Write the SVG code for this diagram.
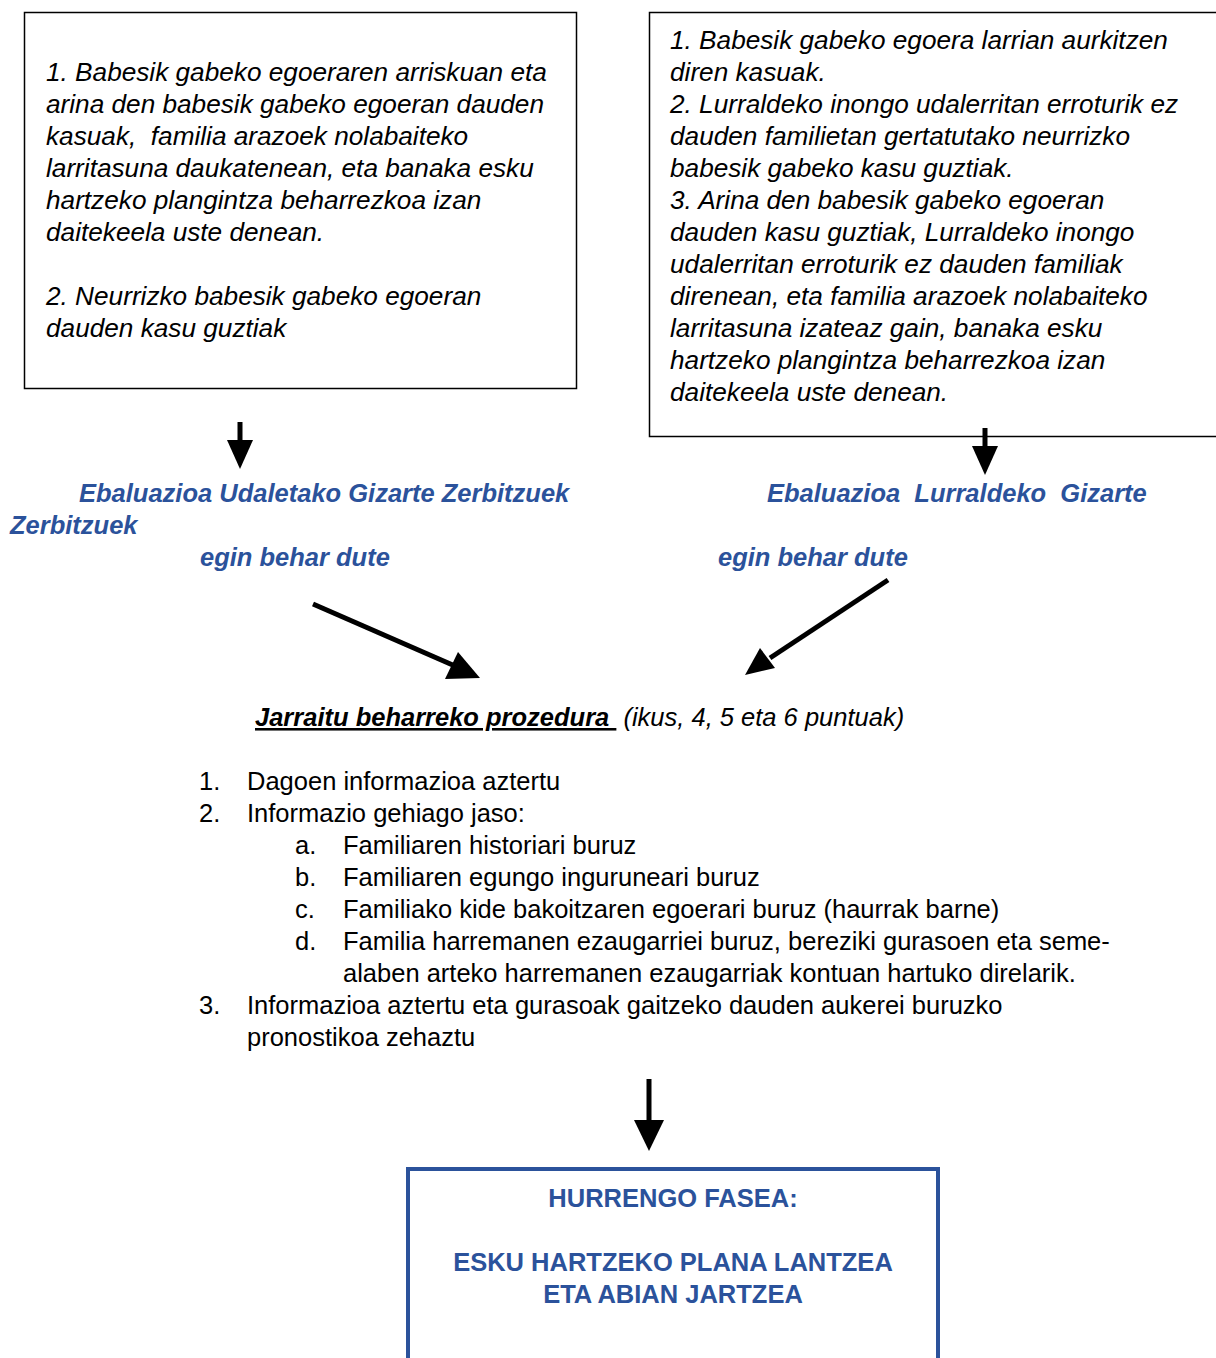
<svg xmlns="http://www.w3.org/2000/svg" width="1216" height="1358" viewBox="0 0 1216 1358">
<style>
text{font-family:"Liberation Sans",Arial,sans-serif;font-size:25.5px;fill:#000}
.it{font-style:italic}
.bx{font-style:italic;font-size:26.2px}
.blue{fill:#2B529B;font-weight:bold;font-style:italic}
.bb{fill:#2B529B;font-weight:bold}
.box{fill:#fff;stroke:#000;stroke-width:1.5}
.conn line{stroke:#000;stroke-width:5}
.conn polygon{fill:#000}
</style>
<rect width="1216" height="1358" fill="#fff"/>
<g id="box-left">
<rect class="box" x="24.5" y="12.5" width="552" height="376"/>
<text class="bx" x="46" y="81">1. Babesik gabeko egoeraren arriskuan eta</text>
<text class="bx" x="46" y="113">arina den babesik gabeko egoeran dauden</text>
<text class="bx" x="46" y="145" xml:space="preserve">kasuak,  familia arazoek nolabaiteko</text>
<text class="bx" x="46" y="177">larritasuna daukatenean, eta banaka esku</text>
<text class="bx" x="46" y="209">hartzeko plangintza beharrezkoa izan</text>
<text class="bx" x="46" y="241">daitekeela uste denean.</text>
<text class="bx" x="46" y="305">2. Neurrizko babesik gabeko egoeran</text>
<text class="bx" x="46" y="337">dauden kasu guztiak</text>
</g>
<g id="box-right">
<rect class="box" x="649.5" y="12.5" width="570" height="424"/>
<text class="bx" x="670" y="49">1. Babesik gabeko egoera larrian aurkitzen</text>
<text class="bx" x="670" y="81">diren kasuak.</text>
<text class="bx" x="670" y="113">2. Lurraldeko inongo udalerritan erroturik ez</text>
<text class="bx" x="670" y="145">dauden familietan gertatutako neurrizko</text>
<text class="bx" x="670" y="177">babesik gabeko kasu guztiak.</text>
<text class="bx" x="670" y="209">3. Arina den babesik gabeko egoeran</text>
<text class="bx" x="670" y="241">dauden kasu guztiak, Lurraldeko inongo</text>
<text class="bx" x="670" y="273">udalerritan erroturik ez dauden familiak</text>
<text class="bx" x="670" y="305">direnean, eta familia arazoek nolabaiteko</text>
<text class="bx" x="670" y="337">larritasuna izateaz gain, banaka esku</text>
<text class="bx" x="670" y="369">hartzeko plangintza beharrezkoa izan</text>
<text class="bx" x="670" y="401">daitekeela uste denean.</text>
</g>
<g id="label-left">
<text class="blue" x="79" y="502">Ebaluazioa Udaletako Gizarte Zerbitzuek</text>
<text class="blue" x="10" y="534">Zerbitzuek</text>
<text class="blue" x="200" y="566">egin behar dute</text>
</g>
<g id="label-right">
<text class="blue" x="767" y="502" xml:space="preserve">Ebaluazioa  Lurraldeko  Gizarte</text>
<text class="blue" x="718" y="566">egin behar dute</text>
</g>
<g id="procedure">
<text x="255" y="726"><tspan class="it" font-weight="bold" text-decoration="underline" xml:space="preserve">Jarraitu beharreko prozedura </tspan><tspan class="it" xml:space="preserve"> (ikus, 4, 5 eta 6 puntuak)</tspan></text>
<text x="199" y="790">1.</text><text x="247" y="790">Dagoen informazioa aztertu</text>
<text x="199" y="822">2.</text><text x="247" y="822">Informazio gehiago jaso:</text>
<text x="295" y="854">a.</text><text x="343" y="854">Familiaren historiari buruz</text>
<text x="295" y="886">b.</text><text x="343" y="886">Familiaren egungo inguruneari buruz</text>
<text x="295" y="918">c.</text><text x="343" y="918">Familiako kide bakoitzaren egoerari buruz (haurrak barne)</text>
<text x="295" y="950">d.</text><text x="343" y="950">Familia harremanen ezaugarriei buruz, bereziki gurasoen eta seme-</text>
<text x="343" y="982">alaben arteko harremanen ezaugarriak kontuan hartuko direlarik.</text>
<text x="199" y="1014">3.</text><text x="247" y="1014">Informazioa aztertu eta gurasoak gaitzeko dauden aukerei buruzko</text>
<text x="247" y="1046">pronostikoa zehaztu</text>
</g>
<g id="next-phase">
<rect x="408" y="1169" width="530" height="200" fill="#fff" stroke="#2B529B" stroke-width="4"/>
<text class="bb" x="673" y="1207" text-anchor="middle">HURRENGO FASEA:</text>
<text class="bb" x="673" y="1271" text-anchor="middle">ESKU HARTZEKO PLANA LANTZEA</text>
<text class="bb" x="673" y="1303" text-anchor="middle">ETA ABIAN JARTZEA</text>
</g>
<g id="connectors" class="conn">
<line x1="240" y1="422" x2="240" y2="442"/>
<polygon points="227,440 253,440 240,469"/>
<line x1="985" y1="428" x2="985" y2="448"/>
<polygon points="972,446 998,446 985,475"/>
<line x1="313" y1="604" x2="455" y2="666"/>
<polygon points="480,678 445,679 458,652"/>
<line x1="888" y1="580" x2="770" y2="658"/>
<polygon points="745,675 760,648 775,668"/>
<line x1="649" y1="1079" x2="649" y2="1122"/>
<polygon points="634,1120 664,1120 649,1151"/>
</g>
</svg>
